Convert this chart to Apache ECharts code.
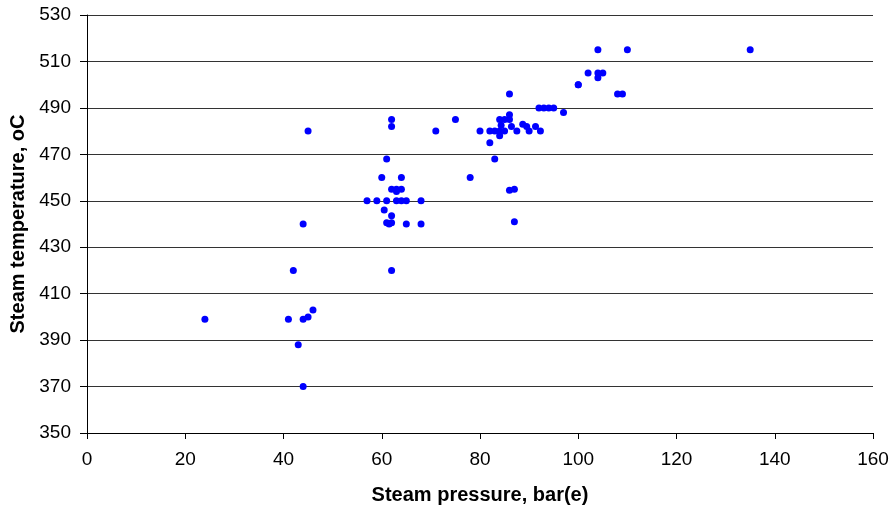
<!DOCTYPE html>
<html lang="en">
<head>
    <meta charset="UTF-8">
    <script src="https://cdn.jsdelivr.net/npm/echarts@6/dist/echarts.min.js"></script>
    <title>Steam pressure vs temperature</title>
</head>
<body style="margin: 0">
    <div id="scatterChart_main" style="height: 510px; width: 893px"></div>
<script>

    // steam pressure, bar(e)
    var pressure = [
        24, 41, 42, 43, 44, 44, 44, 45, 46, 45,
        57, 59, 61, 63, 64, 65, 68,
        60, 64, 61,
        62, 63, 64, 63,
        60.5, 62, 61, 62, 61.5, 65, 68,
        62, 62, 62,
        71, 75, 78,
        80, 82, 83, 84, 85, 87.5, 90, 92.3,
        84, 82, 83,
        84, 85, 86, 86, 84.3, 86.4, 88.7, 89.5, 91.3,
        86, 92, 93, 94, 95, 97,
        86, 87, 87,
        100, 100, 102, 104, 105, 104, 108, 109,
        104, 110, 135
    ];

    // steam temperature, oC
    var temperature = [
        399, 399, 420, 388, 370, 440, 399, 400, 403, 480,
        450, 450, 450, 450, 450, 450, 450,
        460, 460, 468,
        455, 455, 455, 454,
        446, 443.5, 440.5, 440.5, 440, 440, 440,
        420, 485, 482,
        480, 485, 460,
        480, 480, 480, 480, 480, 480, 480, 480,
        478, 475, 468,
        485, 485, 485, 487, 482.5, 482, 483, 482, 482,
        496, 490, 490, 490, 490, 488,
        454.5, 455, 441,
        500, 500, 505, 505, 505, 503, 496, 496,
        515, 515, 515
    ];

    var xTicks = {min: 0, max: 160, interval: 20};
    var yTicks = {min: 350, max: 530, interval: 20};

    var points = [];
    for (var i in pressure) {
        points.push([pressure[i], temperature[i]]);
    }

    var ScatterChart_Main = echarts.init(document.getElementById('scatterChart_main'));

    var labelFont = {color: '#000', fontFamily: 'Liberation Sans', fontSize: 19};
    var nameFont = {color: '#000', fontFamily: 'Liberation Sans', fontSize: 20, fontWeight: 'bold'};

    var option = {
        animation: false,
        grid: {left: 87, right: 20, top: 15, bottom: 75},
        xAxis: {
            type: 'value',
            min: xTicks.min,
            max: xTicks.max,
            interval: xTicks.interval,
            name: 'Steam pressure, bar(e)',
            nameLocation: 'middle',
            nameGap: 52,
            nameTextStyle: nameFont,
            axisLine: {lineStyle: {color: '#000', width: 1}},
            axisTick: {show: true, length: 6, lineStyle: {color: '#000'}},
            axisLabel: Object.assign({margin: 17}, labelFont),
            splitLine: {show: false}
        },
        yAxis: {
            type: 'value',
            min: yTicks.min,
            max: yTicks.max,
            interval: yTicks.interval,
            name: 'Steam temperature, oC',
            nameLocation: 'middle',
            nameGap: 56,
            nameTextStyle: nameFont,
            axisLine: {show: true, lineStyle: {color: '#000', width: 1}},
            axisTick: {show: true, length: 7, lineStyle: {color: '#000'}},
            axisLabel: Object.assign({margin: 16}, labelFont),
            splitLine: {show: true, lineStyle: {color: '#333', width: 1}}
        },
        series: [{
            name: 'steam',
            type: 'scatter',
            data: points,
            symbol: 'circle',
            symbolSize: 7,
            itemStyle: {color: '#0000ff', opacity: 1}
        }]
    };

    ScatterChart_Main.setOption(option);

</script>
</body>
</html>
